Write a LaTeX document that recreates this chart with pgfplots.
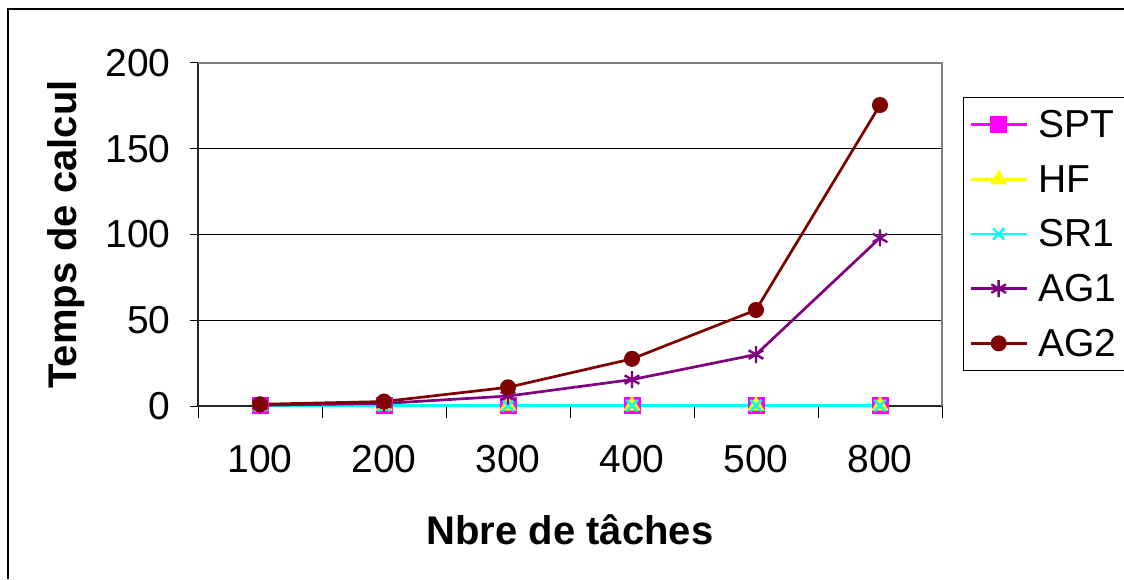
\documentclass[border=0pt]{standalone}
\usepackage{pgfplots}
\pgfplotsset{compat=1.18}
\usepackage{fontspec}
\setmainfont{Liberation Sans}
\definecolor{cSPT}{RGB}{255,0,255}
\definecolor{cHF}{RGB}{255,255,0}
\definecolor{cSR}{RGB}{0,255,255}
\definecolor{cAGa}{RGB}{128,0,128}
\definecolor{cAGb}{RGB}{128,0,0}
\begin{document}
\begin{tikzpicture}[x=1pt,y=1pt]
\useasboundingbox (0,0) rectangle (1124,579);
\draw[line width=2pt] (8,0) -- (8,570) -- (1124,570);
\begin{axis}[
  at={(198pt,173pt)}, anchor=south west,
  scale only axis, width=744pt, height=343pt,
  xmin=0, xmax=6, ymin=0, ymax=200,
  font=\fontsize{39}{41}\selectfont,
  /pgf/number format/assume math mode=true,
  axis lines=left, axis line style={-, black!85, line width=1.3pt},
  xtick={0.5,1.5,2.5,3.5,4.5,5.5},
  xticklabels={100,200,300,400,500,800},
  major x tick style={draw=none},
  minor xtick={0,1,2,3,4,5,6},
  minor tick length=12pt,
  ytick={0,50,100,150,200},
  major tick length=8pt,
  tick align=outside,
  tick style={black, line width=1pt},
  ymajorgrids, grid style={black, line width=0.8pt},
  yticklabel style={anchor=east, xshift=-16pt},
  xticklabel style={anchor=north, yshift=-28pt},
  xlabel={\bfseries Nbre de tâches},
  ylabel={\bfseries Temps de calcul},
  every axis x label/.style={at={(rel axis cs:0.5,0)}, anchor=center, yshift=-124pt, font=\fontsize{40}{42}\selectfont},
  every axis y label/.style={at={(rel axis cs:0,0.5)}, xshift=-132pt, rotate=90, anchor=center, font=\fontsize{40}{42}\selectfont},
  legend style={at={(rel axis cs:1.028,0.901)}, anchor=north west,
    draw=black, line width=1pt, inner xsep=6pt, inner ysep=11pt,
    row sep=22pt, font=\fontsize{39}{41}\selectfont,
    cells={anchor=west}},
  legend image code/.code={\path (0pt,-4pt) (64pt,0pt);\draw[mark repeat=2,mark phase=2,#1] plot coordinates {(0pt,0pt) (28pt,0pt) (56pt,0pt)};},
  every axis plot/.append style={line width=2.7pt},
  clip=false,
]
\addplot[cSPT, mark=square*, mark size=8pt, mark options={solid, line width=1pt}]
  coordinates {(0.5,0.2) (1.5,0.2) (2.5,0.2) (3.5,0.2) (4.5,0.2) (5.5,0.2)};
\addlegendentry{SPT}
\addplot[cHF, mark=triangle*, mark size=9pt, mark options={solid, line width=1pt}]
  coordinates {(0.5,0.2) (1.5,0.2) (2.5,0.2) (3.5,0.2) (4.5,0.2) (5.5,0.2)};
\addlegendentry{HF}
\addplot[cSR, mark=x, mark size=8pt, mark options={solid, line width=2.4pt}]
  coordinates {(0.5,0.2) (1.5,0.2) (2.5,0.2) (3.5,0.2) (4.5,0.2) (5.5,0.2)};
\addlegendentry{SR1}
\addplot[cAGa, mark=asterisk, mark size=8.5pt, mark options={solid, line width=2.4pt}]
  coordinates {(0.5,0.4) (1.5,1.5) (2.5,5.8) (3.5,15.4) (4.5,30) (5.5,98)};
\addlegendentry{AG1}
\addplot[cAGb, mark=*, mark size=7.5pt, mark options={solid, line width=1pt}]
  coordinates {(0.5,1) (1.5,2.6) (2.5,10.9) (3.5,27.5) (4.5,56) (5.5,175.5)};
\addlegendentry{AG2}
\draw[gray, line width=1.2pt] (rel axis cs:0,1) -- (rel axis cs:1,1) -- (rel axis cs:1,0);
\end{axis}
\end{tikzpicture}
\end{document}
